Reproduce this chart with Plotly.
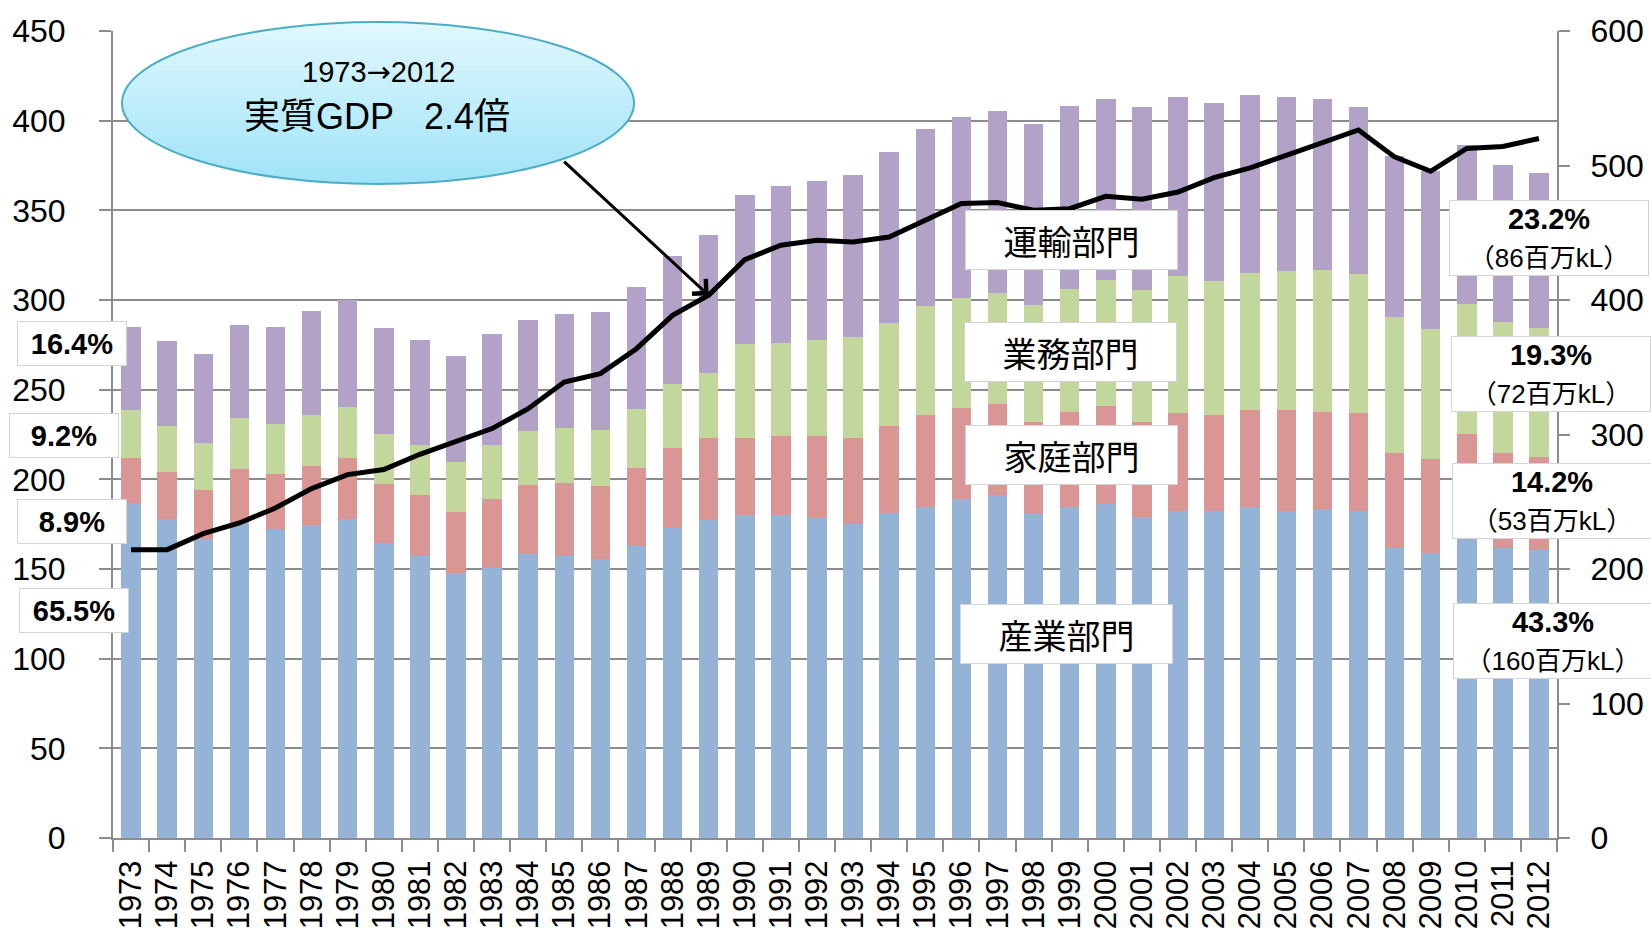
import numpy as np
import plotly.graph_objects as go

years = [str(y) for y in range(1973, 2013)]

industry = [186.6, 177.7, 166.7, 175.7, 172.1, 174.5, 177.7, 164.3, 157.3, 147.5,
            150.6, 158.2, 157.5, 155.6, 163.0, 173.1, 177.5, 180.3, 180.3, 178.4,
            175.2, 181.3, 184.8, 188.9, 191.1, 180.7, 184.6, 186.2, 179.0, 182.2,
            182.6, 184.8, 182.2, 183.2, 182.2, 161.9, 159.1, 169.0, 161.5, 160.4]
residential = [25.3, 26.2, 27.4, 30.3, 30.9, 32.8, 34.2, 32.9, 34.0, 34.3,
               38.4, 38.5, 40.3, 40.7, 43.3, 44.4, 45.5, 42.7, 43.7, 45.6,
               48.1, 48.3, 50.9, 50.7, 50.9, 51.1, 52.8, 54.7, 52.8, 55.0,
               53.3, 53.9, 56.5, 54.5, 55.0, 52.9, 52.5, 56.3, 53.1, 52.3]
commercial = [26.6, 25.8, 26.0, 28.0, 27.7, 28.8, 28.7, 27.9, 27.7, 28.1,
              30.4, 30.1, 31.0, 31.4, 32.8, 35.5, 36.1, 52.5, 52.2, 53.5,
              55.9, 57.6, 61.2, 61.7, 61.9, 65.4, 69.0, 70.1, 73.6, 76.1,
              74.7, 76.6, 77.3, 78.9, 77.2, 75.5, 72.1, 72.5, 73.1, 71.8]
transport = [46.5, 47.3, 49.6, 52.3, 54.3, 57.6, 59.6, 59.1, 58.6, 58.9,
             61.9, 62.1, 63.4, 65.6, 68.2, 71.5, 77.0, 82.9, 87.6, 88.9,
             90.7, 95.5, 98.5, 100.6, 101.3, 101.0, 101.8, 101.3, 102.1, 99.9,
             99.1, 98.9, 97.0, 95.7, 93.2, 90.2, 88.3, 88.5, 87.5, 86.2]
gdp = [214.4, 214.4, 226.3, 234.2, 245.4, 259.8, 270.2, 273.9, 285.3, 294.4,
       304.4, 319.2, 339.0, 345.3, 363.8, 388.6, 403.5, 430.0, 440.7, 444.4,
       443.1, 446.8, 459.2, 471.7, 472.4, 466.7, 467.9, 477.1, 474.9, 480.3,
       491.0, 498.2, 507.6, 517.2, 526.4, 506.4, 495.7, 512.7, 514.1, 520.1]

sector_names = ["産業部門", "家庭部門", "業務部門", "運輸部門"]
left_share = ["65.5%", "8.9%", "9.2%", "16.4%"]
right_share = ["43.3%", "14.2%", "19.3%", "23.2%"]
right_amount = ["（160百万kL）", "（53百万kL）", "（72百万kL）", "（86百万kL）"]
bubble_line1 = "1973<span style='font-family:DejaVu Sans'>→</span>2012"
bubble_line2 = "実質GDP&nbsp;&nbsp;&nbsp;2.4倍"
arrow_year = "1989"

colors = ["#95b3d7", "#d99694", "#c3d69b", "#b3a2c7"]
W, H = 1651, 938
L, R, T, B = 113, 94, 31, 100
PW, PH = W - L - R, H - T - B

def px(x):
    return (x - L) / PW

def py(y):
    return (H - B - y) / PH

NUM = "Liberation Sans, Arial, Noto Sans CJK JP, sans-serif"
JP = "Noto Sans CJK JP, sans-serif"

fig = go.Figure()
for name, vals, c in zip(sector_names, [industry, residential, commercial, transport], colors):
    fig.add_trace(go.Bar(x=years, y=vals, name=name, marker=dict(color=c, line=dict(width=0)),
                         yaxis="y"))
fig.add_trace(go.Scatter(x=years, y=gdp, mode="lines", line=dict(color="black", width=5),
                         yaxis="y2", name="GDP"))

fig.update_layout(
    width=W, height=H,
    margin=dict(l=L, r=R, t=T, b=B, autoexpand=False),
    barmode="stack", bargap=0.46,
    plot_bgcolor="white", paper_bgcolor="white",
    showlegend=False,
    font=dict(family=NUM, color="black"),
    xaxis=dict(type="category", range=[-0.5, len(years) - 0.5], autorange=False,
               categoryorder="array", categoryarray=years,
               tickmode="linear", tick0=0, dtick=1,
               tickangle=-90, tickfont=dict(size=31, family=NUM),
               ticks="outside", tickson="boundaries", ticklen=12, tickcolor="#8c8c8c",
               tickwidth=2, showline=True, linecolor="#8c8c8c", linewidth=2,
               showgrid=False, ticklabelstandoff=8, automargin=False),
    yaxis=dict(range=[0, 450], dtick=50, tickfont=dict(size=32, family=NUM),
               ticks="outside", ticklen=12, tickcolor="#8c8c8c", tickwidth=2,
               showline=True, linecolor="#8c8c8c", linewidth=2,
               gridcolor="#8c8c8c", gridwidth=2, zeroline=False, ticklabelstandoff=27,
               automargin=False),
    yaxis2=dict(range=[0, 600], dtick=100, overlaying="y", side="right",
                tickfont=dict(size=32, family=NUM), ticks="outside", ticklen=11,
                tickcolor="#8c8c8c", tickwidth=2, showline=True, linecolor="#8c8c8c",
                linewidth=2, showgrid=False, zeroline=False, ticklabelstandoff=14,
                automargin=False),
)

# Bubble (ellipse) with vertical gradient made of strips
ecx, ecy, erx, ery = 378.0, 103.0, 256.0, 81.0
top_c = np.array([0xe2, 0xf8, 0xfe])
bot_c = np.array([0x9f, 0xe3, 0xf7])
nstrip = 30
edges = np.linspace(ecy - ery, ecy + ery, nstrip + 1)
for i in range(nstrip):
    ya, yb = edges[i], min(edges[i + 1] + 1.0, ecy + ery)
    ys = np.linspace(ya, yb, 8)
    half = erx * np.sqrt(np.clip(1 - ((ys - ecy) / ery) ** 2, 0, 1))
    xl = ecx - half
    xr = ecx + half
    pts = [(px(x), py(y)) for x, y in zip(xl, ys)] + [(px(x), py(y)) for x, y in zip(xr[::-1], ys[::-1])]
    path = "M " + " L ".join(f"{a:.5f},{b:.5f}" for a, b in pts) + " Z"
    t = (0.5 * (ya + yb) - (ecy - ery)) / (2 * ery)
    c = (top_c * (1 - t) + bot_c * t).round().astype(int)
    fig.add_shape(type="path", path=path, xref="paper", yref="paper",
                  fillcolor=f"rgb({c[0]},{c[1]},{c[2]})", line=dict(width=0), layer="above")
fig.add_shape(type="circle", xref="paper", yref="paper",
              x0=px(ecx - erx), x1=px(ecx + erx), y0=py(ecy + ery), y1=py(ecy - ery),
              fillcolor="rgba(0,0,0,0)", line=dict(color="#4bacc6", width=2), layer="above")

ann = []
ann.append(dict(xref="paper", yref="paper", x=px(378), y=py(72), text=bubble_line1,
                showarrow=False, font=dict(size=29, family=NUM), xanchor="center", yanchor="middle"))
ann.append(dict(xref="paper", yref="paper", x=px(377), y=py(117), text=bubble_line2,
                showarrow=False, font=dict(size=36, family=NUM), xanchor="center", yanchor="middle"))
# arrow pointing at the GDP line
ai = years.index(arrow_year)
ann.append(dict(x=ai, y=gdp[ai], xref="x", yref="y2", text="",
                showarrow=True, ax=-146, ay=-135, arrowhead=4, arrowsize=1.3,
                arrowwidth=3, arrowcolor="black", standoff=0))

# sector labels in plot
sector_pos = [(1066, 634), (1071, 455), (1070, 352), (1071, 240)]
for name, (cx, cy) in zip(sector_names, sector_pos):
    ann.append(dict(xref="paper", yref="paper", x=px(cx), y=py(cy), text=name,
                    showarrow=False, font=dict(size=34, family=JP),
                    bgcolor="white", bordercolor="#d4d4d4", borderwidth=1, borderpad=0,
                    width=211, height=58, xanchor="center", yanchor="middle"))

# left share boxes
left_pos = [(74, 610), (72, 521), (64, 435), (72, 344)]
for txt, (cx, cy) in zip(left_share, left_pos):
    ann.append(dict(xref="paper", yref="paper", x=px(cx), y=py(cy), text="<b>" + txt + "</b>",
                    showarrow=False, font=dict(size=29, family=NUM),
                    bgcolor="white", bordercolor="#d4d4d4", borderwidth=1, borderpad=0,
                    width=108, height=43, xanchor="center", yanchor="middle"))

# right share boxes
right_pos = [(1553, 641), (1552, 501), (1551, 374), (1549, 238)]
for s, a, (cx, cy) in zip(right_share, right_amount, right_pos):
    ann.append(dict(xref="paper", yref="paper", x=px(cx), y=py(cy),
                    text="<b>" + s + "</b><br><span style='font-size:26px'>" + a + "</span>",
                    showarrow=False, font=dict(size=29, family=NUM),
                    bgcolor="white", bordercolor="#d4d4d4", borderwidth=1, borderpad=0,
                    width=198, height=74, xanchor="center", yanchor="middle"))

fig.update_layout(annotations=ann)
fig.write_html("out.html", config={"displayModeBar": False},
               post_script="document.body.style.margin='0px';")
